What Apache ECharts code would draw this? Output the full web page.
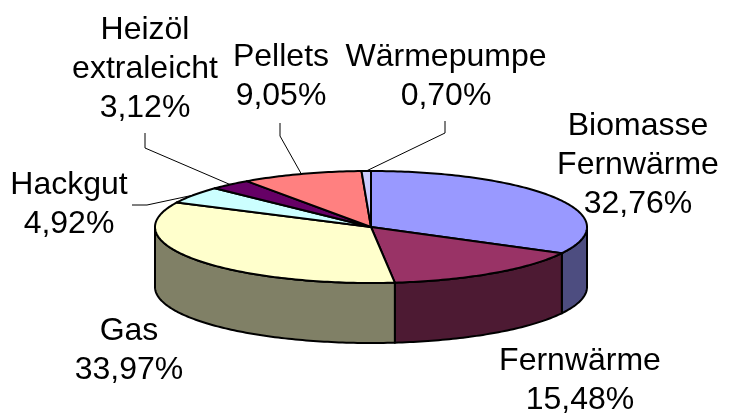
<!DOCTYPE html>
<html>
<head>
<meta charset="utf-8">
<script src="https://cdn.jsdelivr.net/npm/echarts@6/dist/echarts.min.js"></script>
<style>
html,body{margin:0;padding:0;background:#fff;}
#chart{width:731px;height:414px;}
</style>
</head>
<body>
<div id="chart"></div>
<script>
// Anteile der Heizungsarten (%)
var categories = ['Biomasse\nFernwärme', 'Fernwärme', 'Gas', 'Hackgut', 'Heizöl\nextraleicht', 'Pellets', 'Wärmepumpe'];
var shares = [32.76, 15.48, 33.97, 4.92, 3.12, 9.05, 0.70];
var topColors = ['#9999FF', '#993366', '#FFFFCC', '#CCFFFF', '#660066', '#FF8080', '#CCCCFF'];
var sideColors = ['#4D4D80', '#4D1A33', '#808066', '#668080', '#330033', '#804040', '#666680'];

// Geometrie der 3D-Torte (Pixel)
var pie = {cx: 371, cy: 227, rx: 216, ry: 56, depth: 60};
// Beschriftung: Mittelpunkt des Textblocks, Knickpunkte der Führungslinien
var labelPos = [[638, 165], [580, 381], [129, 351], [69, 205], [145, 69], [281, 77], [446, 77]];
var leaders = [null, null, null, [[132, 205], [147, 205]], [[145, 133], [145, 148]], [[280, 123], [280, 136]], [[445, 121], [445, 133]]];

var total = shares.reduce(function(a, b){ return a + b; }, 0);
var data = [];
var cum = 0;
shares.forEach(function(v){
    data.push([v, cum]);
    cum += v;
});

function pt(deg, dy){
    var r = deg * Math.PI / 180;
    return [pie.cx + pie.rx * Math.sin(r), pie.cy - pie.ry * Math.cos(r) + dy];
}
function arc(a0, a1, dy){
    var pts = [];
    var n = Math.max(2, Math.ceil(Math.abs(a1 - a0)));
    for (var k = 0; k <= n; k++) {
        pts.push(pt(a0 + (a1 - a0) * k / n, dy));
    }
    return pts;
}
function fmt(v){
    return v.toFixed(2).replace('.', ',') + '%';
}

var chart = echarts.init(document.getElementById('chart'));
chart.setOption({
    animation: false,
    series: [{
        type: 'custom',
        coordinateSystem: 'none',
        silent: true,
        data: data,
        renderItem: function(params, api){
            var i = params.dataIndex;
            var v = api.value(0);
            var start = api.value(1);
            var a0 = start / total * 360;
            var a1 = (start + v) / total * 360;
            var children = [];
            // Seitenwand (nur vorderer Teil sichtbar)
            var s0 = Math.max(a0, 90), s1 = Math.min(a1, 270);
            if (s1 > s0) {
                children.push({
                    type: 'polygon',
                    shape: {points: arc(s0, s1, 0).concat(arc(s1, s0, pie.depth))},
                    style: {fill: sideColors[i], stroke: '#000', lineWidth: 2, lineJoin: 'round'}
                });
            }
            // Deckfläche
            children.push({
                type: 'polygon',
                shape: {points: [[pie.cx, pie.cy]].concat(arc(a0, a1, 0))},
                style: {fill: topColors[i], stroke: '#000', lineWidth: 2, lineJoin: 'round'}
            });
            // Führungslinie
            if (leaders[i]) {
                children.push({
                    type: 'polyline',
                    shape: {points: leaders[i].concat([pt((a0 + a1) / 2, 0)])},
                    style: {fill: null, stroke: '#000', lineWidth: 1}
                });
            }
            // Beschriftung
            children.push({
                type: 'text',
                x: labelPos[i][0],
                y: labelPos[i][1],
                style: {
                    text: categories[i] + '\n' + fmt(v),
                    font: '32px "Liberation Sans", Arial, sans-serif',
                    fill: '#000',
                    align: 'center',
                    verticalAlign: 'middle',
                    lineHeight: 39
                }
            });
            return {type: 'group', children: children};
        }
    }]
});
</script>
</body>
</html>
